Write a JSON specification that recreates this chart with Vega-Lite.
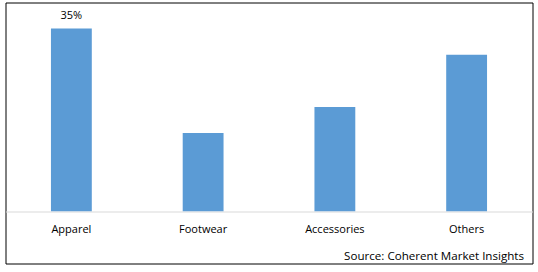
{
  "$schema": "https://vega.github.io/schema/vega-lite/v6.json",
  "width": 527,
  "height": 261,
  "autosize": {"type": "none"},
  "padding": {"left": 5.5, "top": 2.5, "right": 5.5, "bottom": 8.5},
  "background": "white",
  "config": {
    "view": {"stroke": "#000000", "strokeWidth": 1},
    "font": "Open Sans"
  },
  "data": {
    "values": [
      {"segment": "Apparel", "share": 35},
      {"segment": "Footwear", "share": 15},
      {"segment": "Accessories", "share": 20},
      {"segment": "Others", "share": 30}
    ]
  },
  "encoding": {
    "x": {
      "field": "segment",
      "type": "nominal",
      "sort": null,
      "scale": {"paddingInner": 0.69, "paddingOuter": 0.345},
      "axis": {
        "orient": "bottom",
        "offset": -52,
        "labelAngle": 0,
        "ticks": false,
        "domainColor": "#d9d9d9",
        "domainWidth": 1,
        "labelFont": "Open Sans",
        "labelFontSize": 11,
        "labelColor": "#000000",
        "labelPadding": 12,
        "title": "Source: Coherent Market Insights",
        "titleFont": "Open Sans",
        "titleFontSize": 11.6,
        "titleFontWeight": "normal",
        "titleColor": "#000000",
        "titleAlign": "right",
        "titleBaseline": "alphabetic",
        "titleX": 518,
        "titleY": 48
      }
    },
    "y": {
      "field": "share",
      "type": "quantitative",
      "scale": {"domain": [-10, 40], "nice": false, "zero": false},
      "axis": null
    }
  },
  "layer": [
    {"mark": {"type": "bar", "color": "#5b9bd5"}},
    {
      "transform": [{"filter": "datum.segment === 'Apparel'"}],
      "mark": {"type": "text", "baseline": "alphabetic", "dy": -10, "fontSize": 11, "color": "#000000", "font": "Open Sans"},
      "encoding": {"text": {"value": "35%"}}
    }
  ]
}
